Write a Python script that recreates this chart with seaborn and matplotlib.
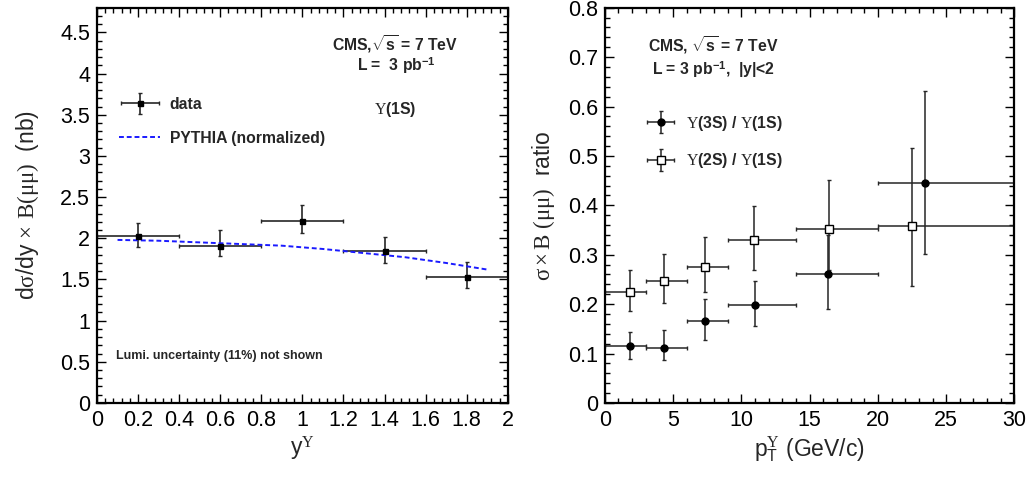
import numpy as np
import pandas as pd
import seaborn as sns
import matplotlib.pyplot as plt
from matplotlib.ticker import MultipleLocator, FormatStrFormatter
from matplotlib.legend_handler import HandlerErrorbar

# left panel: dsigma/dy for Upsilon(1S)
y_bin_lo = [0.0, 0.4, 0.8, 1.2, 1.6]
y_bin_hi = [0.4, 0.8, 1.2, 1.6, 2.0]
y_center = [0.2, 0.6, 1.0, 1.4, 1.8]
dsig_dy = [2.03, 1.91, 2.21, 1.84, 1.53]
dsig_err_up = [0.16, 0.19, 0.20, 0.17, 0.18]
dsig_err_dn = [0.14, 0.13, 0.15, 0.14, 0.13]

pythia_y = [0.1, 0.3, 0.5, 0.7, 0.9, 1.1, 1.3, 1.5, 1.7, 1.9]
pythia_val = [1.98, 1.97, 1.95, 1.93, 1.91, 1.87, 1.82, 1.77, 1.70, 1.62]

# right panel: ratios vs pT
pt_lo = [0, 3, 6, 9, 14, 20]
pt_hi = [3, 6, 9, 14, 20, 30]
pt_3s = [1.83, 4.34, 7.34, 11.0, 16.35, 23.46]
ratio_3s = [0.115, 0.112, 0.166, 0.198, 0.261, 0.445]
r3s_up = [0.144, 0.148, 0.210, 0.246, 0.340, 0.631]
r3s_dn = [0.089, 0.086, 0.128, 0.156, 0.190, 0.302]
pt_2s = [1.83, 4.34, 7.34, 10.9, 16.4, 22.5]
ratio_2s = [0.225, 0.246, 0.276, 0.330, 0.352, 0.359]
r2s_up = [0.270, 0.301, 0.335, 0.398, 0.452, 0.516]
r2s_dn = [0.186, 0.203, 0.224, 0.270, 0.269, 0.237]

sns.set_theme(style="ticks")
plt.rcParams['font.family'] = ['Liberation Sans', 'DejaVu Sans']
plt.rcParams['mathtext.fontset'] = 'custom'
plt.rcParams['mathtext.rm'] = 'Liberation Serif'
plt.rcParams['mathtext.it'] = 'Liberation Serif:italic'
plt.rcParams['mathtext.sf'] = 'Liberation Sans'
plt.rcParams['mathtext.bf'] = 'Liberation Sans:bold'

fig = plt.figure(figsize=(10.32, 4.82), dpi=100)
ax1 = fig.add_axes([0.094, 0.164, 0.398, 0.820])
ax2 = fig.add_axes([0.586, 0.164, 0.397, 0.820])

ecol = '#262626'
tick_fs = 15.5
ann_fs = 11.3


def style_axes(ax):
    for s in ax.spines.values():
        s.set_linewidth(1.6)
        s.set_color('black')
    ax.tick_params(which='both', direction='in', top=True, right=True,
                   colors='black', labelsize=tick_fs, width=1.0)
    ax.tick_params(which='major', length=6.5, pad=5)
    ax.tick_params(which='minor', length=3.3)


# ---- left panel ----
df1 = pd.DataFrame({'y': y_center, 'val': dsig_dy,
                    'xlo': np.subtract(y_center, y_bin_lo),
                    'xhi': np.subtract(y_bin_hi, y_center)})
h_data = ax1.errorbar(df1['y'], df1['val'],
                      xerr=[df1['xlo'], df1['xhi']],
                      yerr=[dsig_err_dn, dsig_err_up],
                      fmt='s', ms=3.6, color='black', ecolor=ecol,
                      elinewidth=1.2, capsize=1.5, capthick=1.0, label='data')
sns.lineplot(x=pythia_y, y=pythia_val, ax=ax1, color='#1a1aff',
             linestyle=(0, (2.5, 1.5)), lw=1.4, label='PYTHIA (normalized)')
ax1.set_xlim(0, 2)
ax1.set_ylim(0, 4.8)
ax1.xaxis.set_major_locator(MultipleLocator(0.2))
ax1.xaxis.set_minor_locator(MultipleLocator(0.04))
ax1.yaxis.set_major_locator(MultipleLocator(0.5))
ax1.yaxis.set_minor_locator(MultipleLocator(0.1))
ax1.xaxis.set_major_formatter(FormatStrFormatter('%g'))
ax1.yaxis.set_major_formatter(FormatStrFormatter('%g'))
style_axes(ax1)
ax1.set_xlabel(r'y$^{\Upsilon}$', fontsize=tick_fs + 1, labelpad=3)
ax1.set_ylabel(r'd$\mathrm{\sigma}$/dy $\times$ $\mathrm{B(\mu\mu)}$  (nb)',
               fontsize=tick_fs + 1, labelpad=14)
line_pythia = ax1.get_lines()[-1]
ax1.legend([h_data, line_pythia], ['data', 'PYTHIA (normalized)'],
           loc='upper left', bbox_to_anchor=(0.02, 0.81),
           frameon=False, prop={'weight': 'bold', 'size': ann_fs},
           handlelength=2.6, labelspacing=1.2, handletextpad=0.6,
           handler_map={type(h_data): HandlerErrorbar(xerr_size=1.2, yerr_size=0.65)})
ax1.text(0.725, 0.909, r'CMS,$\sqrt{\mathbf{s}}$ = 7 TeV', transform=ax1.transAxes,
         ha='center', va='center', fontsize=ann_fs, fontweight='bold')
ax1.text(0.73, 0.853, r'L =  3 pb$^{\mathbf{-1}}$', transform=ax1.transAxes,
         ha='center', va='center', fontsize=ann_fs, fontweight='bold')
ax1.text(0.725, 0.742, r'$\Upsilon$(1S)', transform=ax1.transAxes,
         ha='center', va='center', fontsize=ann_fs, fontweight='bold')
ax1.text(0.046, 0.119, 'Lumi. uncertainty (11%) not shown', transform=ax1.transAxes,
         ha='left', va='center', fontsize=9, fontweight='bold')

# ---- right panel ----
h3 = ax2.errorbar(pt_3s, ratio_3s,
                  xerr=[np.subtract(pt_3s, pt_lo), np.subtract(pt_hi, pt_3s)],
                  yerr=[np.subtract(ratio_3s, r3s_dn), np.subtract(r3s_up, ratio_3s)],
                  fmt='o', ms=5, color='black', ecolor=ecol, elinewidth=1.1,
                  capsize=1.5, capthick=1.0,
                  label=r'$\Upsilon$(3S) / $\Upsilon$(1S)')
h2 = ax2.errorbar(pt_2s, ratio_2s,
                  xerr=[np.subtract(pt_2s, pt_lo), np.subtract(pt_hi, pt_2s)],
                  yerr=[np.subtract(ratio_2s, r2s_dn), np.subtract(r2s_up, ratio_2s)],
                  fmt='s', ms=6, mfc='white', mec='black', mew=1.0, color='black',
                  ecolor=ecol, elinewidth=1.1, capsize=1.5, capthick=1.0,
                  label=r'$\Upsilon$(2S) / $\Upsilon$(1S)')
ax2.set_xlim(0, 30)
ax2.set_ylim(0, 0.8)
ax2.xaxis.set_major_locator(MultipleLocator(5))
ax2.xaxis.set_minor_locator(MultipleLocator(1))
ax2.yaxis.set_major_locator(MultipleLocator(0.1))
ax2.yaxis.set_minor_locator(MultipleLocator(0.02))
ax2.xaxis.set_major_formatter(FormatStrFormatter('%g'))
ax2.yaxis.set_major_formatter(FormatStrFormatter('%g'))
style_axes(ax2)
ax2.set_xlabel(r'p$_{\mathsf{T}}^{\Upsilon}$ (GeV/c)', fontsize=tick_fs + 1, labelpad=3)
ax2.set_ylabel(r'$\mathrm{\sigma \times B\ (\mu\mu)}$  ratio', fontsize=tick_fs + 1,
               labelpad=8)
ax2.legend([h3, h2], [h3.get_label(), h2.get_label()], loc='upper left',
           bbox_to_anchor=(0.06, 0.768), frameon=False,
           prop={'weight': 'bold', 'size': ann_fs},
           handlelength=2.2, labelspacing=1.2, handletextpad=0.5,
           handler_map={type(h3): HandlerErrorbar(xerr_size=0.85, yerr_size=0.7)})
ax2.text(0.265, 0.906, r'CMS, $\sqrt{\mathbf{s}}$ = 7 TeV', transform=ax2.transAxes,
         ha='center', va='center', fontsize=ann_fs, fontweight='bold')
ax2.text(0.265, 0.843, r'L = 3 pb$^{\mathbf{-1}}$,  |y|<2', transform=ax2.transAxes,
         ha='center', va='center', fontsize=ann_fs, fontweight='bold')

fig.savefig('out.png', dpi=100)
